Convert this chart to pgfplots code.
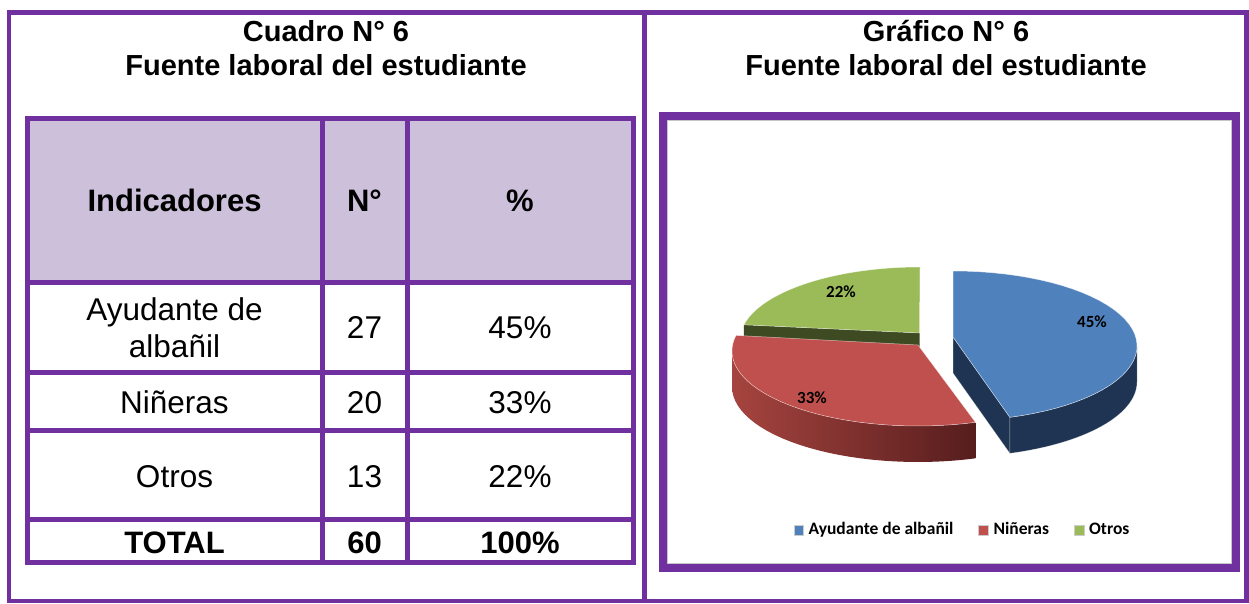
\documentclass[border=0pt]{standalone}
\usepackage{fontspec}
\setmainfont{Liberation Sans}
\newfontfamily\carlito{Carlito}
\usepackage{pgfplots}
\usepackage{pgfplotstable}
\pgfplotsset{compat=1.18}

\definecolor{morado}{HTML}{7030A0}
\definecolor{lila}{HTML}{CCC0DA}
\definecolor{azul}{HTML}{4F81BD}
\definecolor{azulosc}{HTML}{1F3452}
\definecolor{rojo}{HTML}{C0504D}
\definecolor{rojoA}{HTML}{A6443F}
\definecolor{rojoB}{HTML}{561D1D}
\definecolor{verde}{HTML}{9BBB59}
\definecolor{verdeosc}{HTML}{3E4A22}

% fuente laboral del estudiante
\pgfplotstableread[col sep=comma]{
ind,n
Ayudante de albañil,27
Niñeras,20
Otros,13
}\datos

\pgfplotstablegetelem{0}{n}\of\datos \edef\nA{\pgfplotsretval}
\pgfplotstablegetelem{1}{n}\of\datos \edef\nB{\pgfplotsretval}
\pgfplotstablegetelem{2}{n}\of\datos \edef\nC{\pgfplotsretval}
\pgfmathtruncatemacro{\nT}{\nA+\nB+\nC}
\pgfmathtruncatemacro{\pA}{round(100*\nA/\nT)}
\pgfmathtruncatemacro{\pB}{round(100*\nB/\nT)}
\pgfmathtruncatemacro{\pC}{round(100*\nC/\nT)}
\pgfmathsetmacro{\aA}{360/\nT*\nA}
\pgfmathsetmacro{\aB}{360/\nT*(\nA+\nB)}

\newcommand\tit{\bfseries\fontsize{29}{34}\selectfont}
\newcommand\cab{\bfseries\fontsize{31}{36}\selectfont}
\newcommand\cel{\fontsize{31.5}{36}\selectfont}
\newcommand\etq{\carlito\bfseries\fontsize{17}{19}\selectfont}

\begin{document}
\begin{tikzpicture}
\begin{axis}[
  x=1pt, y=1pt, xmin=0, xmax=1249, ymin=0, ymax=603, y dir=reverse,
  axis lines=none, clip=false,
  legend image code/.code={\filldraw[#1,draw=gray!40,line width=0.5pt] (0pt,-4.8pt) rectangle (9.6pt,4.8pt);},
  legend style={at={(axis cs:962,530)}, anchor=center, draw=none, fill=none,
    legend columns=3, font=\carlito\bfseries\fontsize{17.5}{19}\selectfont,
    nodes={text height=12pt, text depth=3.5pt, inner sep=1pt},
    /tikz/every odd column/.append style={column sep=4pt},
    /tikz/every even column/.append style={column sep=24pt}},
]
\path (axis cs:0,0) rectangle (axis cs:1249,603);

% marco
\draw[morado, line width=4.5pt] (axis cs:9,12.5) rectangle (axis cs:1246.5,601);
\draw[morado, line width=5.5pt] (axis cs:644.5,12.5) -- (axis cs:644.5,601);

% titulos
\node[anchor=base, font=\tit] at (axis cs:326,42) {Cuadro N° 6};
\node[anchor=base, font=\tit] at (axis cs:326,76) {Fuente laboral del estudiante};
\node[anchor=base, font=\tit] at (axis cs:946,42) {Gráfico N° 6};
\node[anchor=base, font=\tit] at (axis cs:946,76) {Fuente laboral del estudiante};

% cuadro
\fill[lila] (axis cs:27,119) rectangle (axis cs:633,282);
\draw[morado, line width=5pt]
  (axis cs:27,119) rectangle (axis cs:633,562)
  (axis cs:27,282) -- (axis cs:633,282)
  (axis cs:27,372) -- (axis cs:633,372)
  (axis cs:27,430.5) -- (axis cs:633,430.5)
  (axis cs:27,519) -- (axis cs:633,519)
  (axis cs:322,119) -- (axis cs:322,562)
  (axis cs:407,119) -- (axis cs:407,562);

\node[anchor=base, font=\cab] at (axis cs:174.5,212) {Indicadores};
\node[anchor=base, font=\cab] at (axis cs:364.5,212) {N°};
\node[anchor=base, font=\cab] at (axis cs:520,212) {\%};

\node[anchor=base, font=\cel] at (axis cs:174.5,320) {Ayudante de};
\node[anchor=base, font=\cel] at (axis cs:174.5,357) {albañil};
\node[anchor=base, font=\cel] at (axis cs:364.5,338) {\nA};
\node[anchor=base, font=\cel] at (axis cs:520,338) {\pA\%};

\node[anchor=base, font=\cel] at (axis cs:174.5,413) {Niñeras};
\node[anchor=base, font=\cel] at (axis cs:364.5,413) {\nB};
\node[anchor=base, font=\cel] at (axis cs:520,413) {\pB\%};

\node[anchor=base, font=\cel] at (axis cs:174.5,487) {Otros};
\node[anchor=base, font=\cel] at (axis cs:364.5,487) {\nC};
\node[anchor=base, font=\cel] at (axis cs:520,487) {\pC\%};

\node[anchor=base, font=\cab] at (axis cs:174.5,553) {TOTAL};
\node[anchor=base, font=\cab] at (axis cs:364.5,553) {\nT};
\node[anchor=base, font=\cab] at (axis cs:520,553) {100\%};

% marco del grafico
\draw[morado, line width=8pt] (axis cs:662.5,116) rectangle (axis cs:1236,568);
\draw[gray!45, line width=0.8pt] (axis cs:667,120.5) rectangle (axis cs:1231.5,563.5);

% Otros: cara de corte y cara superior
\fill[verdeosc] (axis cs:919.5,333)
  -- (axis cs:{920+180*sin(\aB)},{340-73*cos(\aB)})
  -- (axis cs:{920+180*sin(\aB)},{376-73*cos(\aB)})
  -- (axis cs:919.5,369) -- cycle;
\filldraw[verde, draw=white, draw opacity=0.6, line width=0.5pt] (axis cs:919.5,333)
  \foreach \i in {0,...,30} { -- (axis cs:{920+180*sin(\aB+(360-\aB)*\i/30)},{340-73*cos(\aB+(360-\aB)*\i/30)}) }
  -- cycle;

% Niñeras: lado y cara superior
\shade[left color=rojoA, right color=rojoB]
  (axis cs:{918+186*sin(\aA)},{351-75*cos(\aA)})
  \foreach \i in {1,...,30} { -- (axis cs:{918+186*sin(\aA+(270-\aA)*\i/30)},{351-75*cos(\aA+(270-\aA)*\i/30)}) }
  \foreach \i in {30,...,0} { -- (axis cs:{918+186*sin(\aA+(270-\aA)*\i/30)},{387-75*cos(\aA+(270-\aA)*\i/30)}) }
  -- cycle;
\filldraw[rojo, draw=white, draw opacity=0.6, line width=0.5pt] (axis cs:918,345)
  \foreach \i in {0,...,40} { -- (axis cs:{918+186*sin(\aA+(\aB-\aA)*\i/40)},{351-75*cos(\aA+(\aB-\aA)*\i/40)}) }
  -- cycle;

% Ayudante de albañil: cara de corte, lado y cara superior
\filldraw[azulosc, draw=white, draw opacity=0.4, line width=0.5pt] (axis cs:953,337)
  -- (axis cs:{953+184*sin(\aA)},{346-75*cos(\aA)})
  -- (axis cs:{953+184*sin(\aA)},{382-75*cos(\aA)})
  -- (axis cs:953,373) -- cycle;
\filldraw[azulosc, draw=white, draw opacity=0.4, line width=0.5pt]
  (axis cs:{953+184*sin(90)},{346-75*cos(90)})
  \foreach \i in {1,...,30} { -- (axis cs:{953+184*sin(90+(\aA-90)*\i/30)},{346-75*cos(90+(\aA-90)*\i/30)}) }
  \foreach \i in {30,...,0} { -- (axis cs:{953+184*sin(90+(\aA-90)*\i/30)},{382-75*cos(90+(\aA-90)*\i/30)}) }
  -- cycle;
\filldraw[azul, draw=white, draw opacity=0.6, line width=0.5pt] (axis cs:953,337)
  \foreach \i in {0,...,40} { -- (axis cs:{953+184*sin(\aA*\i/40)},{346-75*cos(\aA*\i/40)}) }
  -- cycle;

% etiquetas de datos
\node[font=\etq, inner sep=0pt] at (axis cs:1092,321.5) {\pA\%};
\node[font=\etq, inner sep=0pt] at (axis cs:812,398) {\pB\%};
\node[font=\etq, inner sep=0pt] at (axis cs:841,292) {\pC\%};

\addlegendimage{fill=azul}
\addlegendentry{Ayudante de albañil}
\addlegendimage{fill=rojo}
\addlegendentry{Niñeras}
\addlegendimage{fill=verde}
\addlegendentry{Otros}
\end{axis}
\end{tikzpicture}
\end{document}
